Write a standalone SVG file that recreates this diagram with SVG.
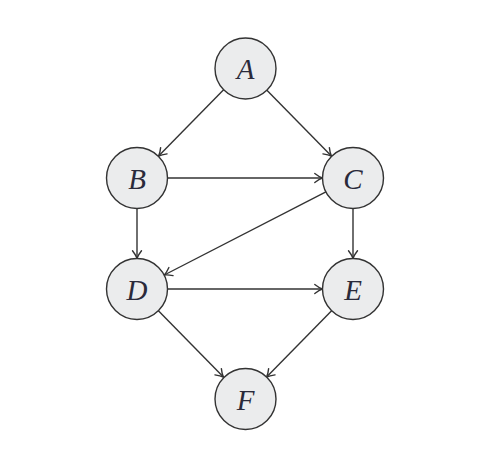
<svg xmlns="http://www.w3.org/2000/svg" width="496" height="469" viewBox="0 0 496 469">
<defs>
<marker id="arr" markerUnits="userSpaceOnUse" markerWidth="14" markerHeight="14" viewBox="-10 -7 12 14" refX="0" refY="0" orient="auto">
<path d="M-7.5,-4.5 Q-3,-1 0,0 Q-3,1 -7.5,4.5" fill="none" stroke="#333" stroke-width="1.4" stroke-linecap="round" stroke-linejoin="round"/>
</marker>
<style>
.n circle{fill:#ebeced;stroke:#333;stroke-width:1.4}
.n text{font-family:"Liberation Serif","DejaVu Serif",serif;font-style:italic;font-size:29px;fill:#2a2a3a;text-anchor:middle;dominant-baseline:central}
.e line{stroke:#333;stroke-width:1.4;marker-end:url(#arr)}
</style>
</defs>
<rect width="496" height="469" fill="#fff"/>
<g id="edges" class="e">
<line x1="223.6" y1="89.7" x2="158.6" y2="156.1"/>
<line x1="266.4" y1="89.7" x2="331.4" y2="156.1"/>
<line x1="167.5" y1="178" x2="322.3" y2="178"/>
<line x1="137" y1="208.5" x2="137" y2="258.3"/>
<line x1="325.9" y1="191.9" x2="164.3" y2="275"/>
<line x1="353" y1="208.5" x2="353" y2="258.3"/>
<line x1="167.5" y1="289" x2="322.3" y2="289"/>
<line x1="158.4" y1="310.7" x2="223.4" y2="377.1"/>
<line x1="331.6" y1="310.7" x2="266.6" y2="377.1"/>
</g>
<g id="A" class="n"><circle cx="245.5" cy="68.5" r="30.5"/><text x="245.5" y="69">A</text></g>
<g id="B" class="n"><circle cx="137" cy="178" r="30.5"/><text x="137" y="178.5">B</text></g>
<g id="C" class="n"><circle cx="353" cy="178" r="30.5"/><text x="353" y="178.5">C</text></g>
<g id="D" class="n"><circle cx="137" cy="289" r="30.5"/><text x="137" y="289.5">D</text></g>
<g id="E" class="n"><circle cx="353" cy="289" r="30.5"/><text x="353" y="289.5">E</text></g>
<g id="F" class="n"><circle cx="245.5" cy="399" r="30.5"/><text x="245.5" y="399.5">F</text></g>
</svg>
